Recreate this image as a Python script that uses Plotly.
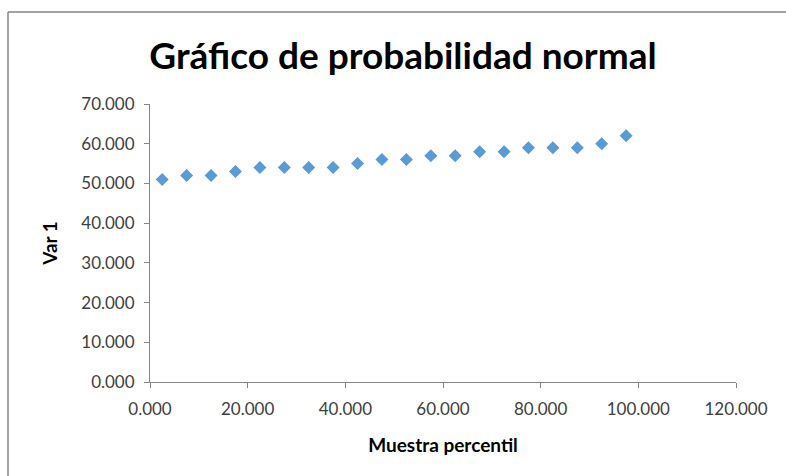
import plotly.graph_objects as go

# percentil de la muestra y valores de Var 1
muestra_percentil = [2.5, 7.5, 12.5, 17.5, 22.5, 27.5, 32.5, 37.5, 42.5, 47.5,
                     52.5, 57.5, 62.5, 67.5, 72.5, 77.5, 82.5, 87.5, 92.5, 97.5]
var_1 = [51, 52, 52, 53, 54, 54, 54, 54, 55, 56,
         56, 57, 57, 58, 58, 59, 59, 59, 60, 62]

FONT = "Lato, Carlito, 'Open Sans', sans-serif"
AXIS_GRAY = "#868686"

fig = go.Figure()

fig.add_trace(go.Scatter(
    x=muestra_percentil, y=var_1,
    mode="markers",
    marker=dict(symbol="diamond", size=10, color="#5B9BD5"),
    showlegend=False
))

axis_common = dict(
    showgrid=False, zeroline=False,
    showline=True, linecolor=AXIS_GRAY, linewidth=1,
    ticks="outside", ticklen=5, tickcolor=AXIS_GRAY,
    tickformat=".3f",
    tickfont=dict(family=FONT, size=17, color="#404040"),
)

fig.update_xaxes(
    range=[0, 120], dtick=20, **axis_common,
    ticklabelstandoff=7,
    title=dict(text="<b>Muestra percentil</b>", font=dict(family=FONT, size=19, color="#000"),
               standoff=20),
)
fig.update_yaxes(
    range=[0, 70], dtick=10, **axis_common,
    ticklabelstandoff=6,
    title=dict(text="<b>Var 1</b>", font=dict(family=FONT, size=19, color="#000"),
               standoff=18),
)

fig.update_layout(
    width=786, height=476,
    margin=dict(l=150, r=50, t=104, b=94),
    paper_bgcolor="white", plot_bgcolor="white",
    title=dict(text="<b>Gráfico de probabilidad normal</b>",
               font=dict(family=FONT, size=37, color="#000"),
               x=403 / 786, xanchor="center", xref="container",
               y=1 - 56 / 476, yanchor="middle"),
    shapes=[
        # marco del gráfico (solo bordes superior e izquierdo visibles)
        dict(type="line", xref="paper", yref="paper",
             x0=(8 - 150) / 586, x1=(786 - 150) / 586,
             y0=(382 - 12) / 278, y1=(382 - 12) / 278,
             line=dict(color=AXIS_GRAY, width=1.5)),
        dict(type="line", xref="paper", yref="paper",
             x0=(8 - 150) / 586, x1=(8 - 150) / 586,
             y0=(382 - 12) / 278, y1=(382 - 476) / 278,
             line=dict(color=AXIS_GRAY, width=1.5)),
    ],
)

# sin margen del body para que la figura quede en (0, 0)
fig.write_html("out.html", config={"displayModeBar": False},
               post_script="document.body.style.margin='0';")
